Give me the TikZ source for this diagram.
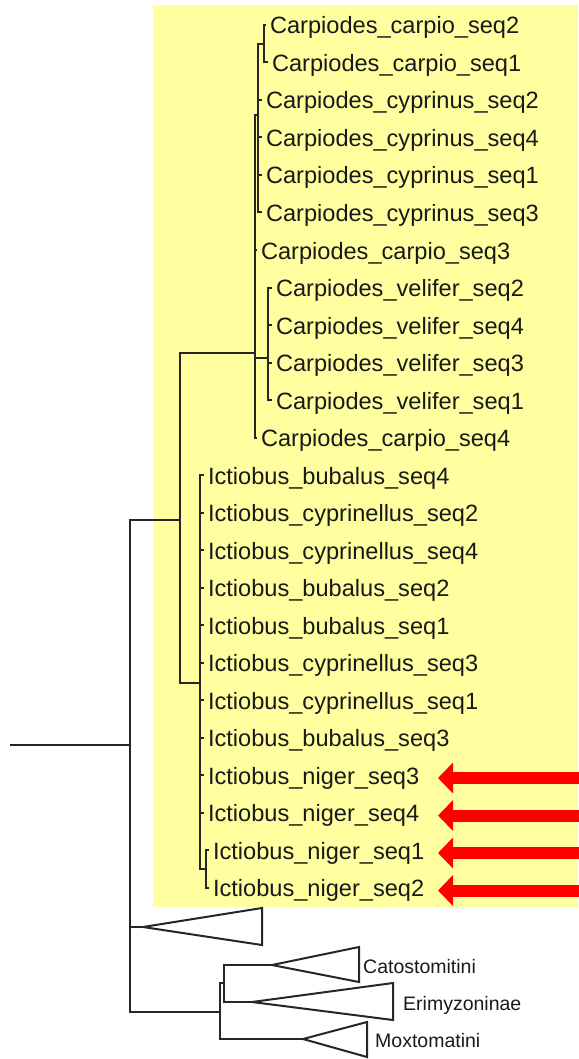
\documentclass[tikz,border=0pt]{standalone}
\usepackage{fontspec}
\setmainfont{Liberation Sans}
\usetikzlibrary{arrows.meta,positioning,calc}
\definecolor{hlyellow}{RGB}{255,255,160}

\begin{document}
\begin{tikzpicture}[
		x=1pt, y=-1pt,
		leaf/.style={anchor=west, inner sep=0pt, outer xsep=4pt, text height=18pt, text depth=0pt,
			font=\fontsize{23.6}{28}\selectfont, text=black!90},
		grp/.style={anchor=west, inner sep=0pt, text height=14pt, text depth=0pt,
			font=\fontsize{19.5}{22}\selectfont, text=black!90},
		br/.style={line width=2pt, black!85},
		clade/.style={line width=2pt, black!85, line join=miter},
		hilite/.style={red, line width=12pt, -{Triangle[length=15pt,width=30pt]}}
		]
		\useasboundingbox (0,0) rectangle (578,1059);
		\fill[hlyellow] (153,5) rectangle (578,907);
		
		% internal nodes
		\coordinate (root0) at (10,745);
		\coordinate (r)  at (130,745);
		\coordinate (ci) at (180,520);
		\coordinate (ca) at (255,353);
		\coordinate (b)  at (258,115);
		\coordinate (c)  at (264,43.75);
		\coordinate (v)  at (268,358);
		\coordinate (ic) at (200,683);
		\coordinate (nn) at (206,868.75);
		\coordinate (cm) at (220,1012);
		\coordinate (ce) at (224,983);
		
		% leaves
		\node[leaf] (n1)  at (266,25)    {Carpiodes\_carpio\_seq2};
		\node[leaf] (n2)  at (268,62.5)  {Carpiodes\_carpio\_seq1};
		\node[leaf] (n3)  at (262,100)   {Carpiodes\_cyprinus\_seq2};
		\node[leaf] (n4)  at (262,137.5) {Carpiodes\_cyprinus\_seq4};
		\node[leaf] (n5)  at (262,175)   {Carpiodes\_cyprinus\_seq1};
		\node[leaf] (n6)  at (262,212.5) {Carpiodes\_cyprinus\_seq3};
		\node[leaf] (n7)  at (257,250)   {Carpiodes\_carpio\_seq3};
		\node[leaf] (n8)  at (272,287.5) {Carpiodes\_velifer\_seq2};
		\node[leaf] (n9)  at (272,325)   {Carpiodes\_velifer\_seq4};
		\node[leaf] (n10) at (272,362.5) {Carpiodes\_velifer\_seq3};
		\node[leaf] (n11) at (272,400)   {Carpiodes\_velifer\_seq1};
		\node[leaf] (n12) at (257,437.5) {Carpiodes\_carpio\_seq4};
		\node[leaf] (n13) at (204,475)   {Ictiobus\_bubalus\_seq4};
		\node[leaf] (n14) at (204,512.5) {Ictiobus\_cyprinellus\_seq2};
		\node[leaf] (n15) at (204,550)   {Ictiobus\_cyprinellus\_seq4};
		\node[leaf] (n16) at (204,587.5) {Ictiobus\_bubalus\_seq2};
		\node[leaf] (n17) at (204,625)   {Ictiobus\_bubalus\_seq1};
		\node[leaf] (n18) at (204,662.5) {Ictiobus\_cyprinellus\_seq3};
		\node[leaf] (n19) at (204,700)   {Ictiobus\_cyprinellus\_seq1};
		\node[leaf] (n20) at (204,737.5) {Ictiobus\_bubalus\_seq3};
		\node[leaf] (n21) at (204,775)   {Ictiobus\_niger\_seq3};
		\node[leaf] (n22) at (204,812.5) {Ictiobus\_niger\_seq4};
		\node[leaf] (n23) at (209,850)   {Ictiobus\_niger\_seq1};
		\node[leaf] (n24) at (209,887.5) {Ictiobus\_niger\_seq2};
		
		% collapsed clades
		\coordinate (t1)  at (143,927);
		\coordinate (cat) at (272,965);
		\coordinate (eri) at (252,1002);
		\coordinate (mox) at (303,1039);
		\draw[clade] (t1)  -- (262,908) -- (262,945) -- cycle;
		\draw[clade] (cat) -- (359,947) -- (359,982) -- cycle;
		\draw[clade] (eri) -- (393,983) -- (393,1020) -- cycle;
		\draw[clade] (mox) -- (367,1022) -- (367,1057) -- cycle;
		\node[grp] (catlbl) at (363,966)  {Catostomitini};
		\node[grp] (erilbl) at (403,1003) {Erimyzoninae};
		\node[grp] (moxlbl) at (375,1040) {Moxtomatini};
		
		% branches
		\draw[br] (root0) -- (r);
		\draw[br] (r) |- (ci);
		\draw[br] (r) |- (t1);
		\draw[br] (r) |- (cm);
		\draw[br] (ci) |- (ca);
		\draw[br] (ci) |- (ic);
		\draw[br] (ca) |- (b);
		\draw[br] (ca) |- (n7);
		\draw[br] (ca) |- (v);
		\draw[br] (ca) |- (n12);
		\draw[br] (b) |- (c);
		\draw[br] (b) |- (n3);
		\draw[br] (b) |- (n4);
		\draw[br] (b) |- (n5);
		\draw[br] (b) |- (n6);
		\draw[br] (c) |- (n1);
		\draw[br] (c) |- (n2);
		\draw[br] (v) |- (n8);
		\draw[br] (v) |- (n9);
		\draw[br] (v) |- (n10);
		\draw[br] (v) |- (n11);
		\draw[br] (ic) |- (n13);
		\draw[br] (ic) |- (n14);
		\draw[br] (ic) |- (n15);
		\draw[br] (ic) |- (n16);
		\draw[br] (ic) |- (n17);
		\draw[br] (ic) |- (n18);
		\draw[br] (ic) |- (n19);
		\draw[br] (ic) |- (n20);
		\draw[br] (ic) |- (n21);
		\draw[br] (ic) |- (n22);
		\draw[br] (ic) |- (nn);
		\draw[br] (nn) |- (n23);
		\draw[br] (nn) |- (n24);
		\draw[br] (cm) |- (ce);
		\draw[br] (cm) |- (mox);
		\draw[br] (ce) |- (cat);
		\draw[br] (ce) |- (eri);
		
		% arrows for the niger sequences
		\coordinate (tipx) at (438,0);
		\coordinate (e21) at (592,778);
		\coordinate (e22) at (592,815.5);
		\coordinate (e23) at (592,853);
		\coordinate (e24) at (592,890.5);
		\draw[hilite] (e21) -- (tipx |- e21);
		\draw[hilite] (e22) -- (tipx |- e22);
		\draw[hilite] (e23) -- (tipx |- e23);
		\draw[hilite] (e24) -- (tipx |- e24);
	\end{tikzpicture}
\end{document}
